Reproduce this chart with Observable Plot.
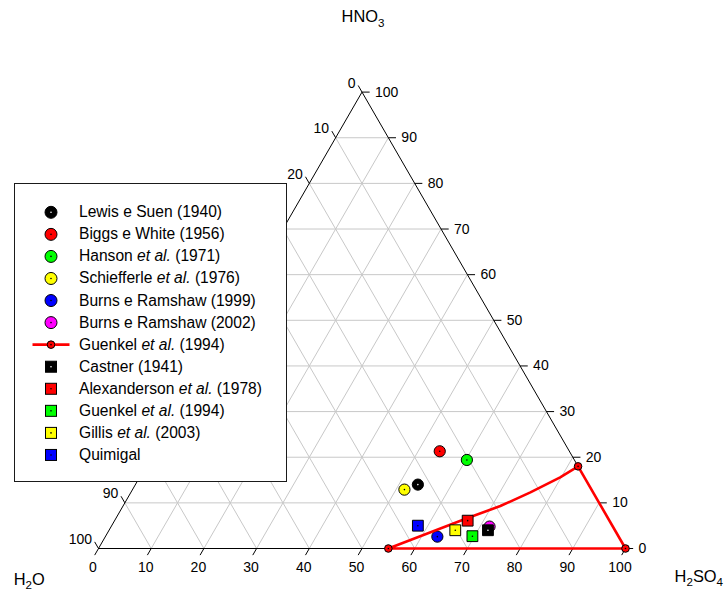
<!DOCTYPE html>
<html>
<head>
<meta charset="utf-8">
<script src="https://cdn.jsdelivr.net/npm/d3@7"></script>
<script src="https://cdn.jsdelivr.net/npm/@observablehq/plot@0.6"></script>
<style>
  html, body { margin: 0; padding: 0; background: #fff; }
  #chart { position: relative; width: 724px; height: 589px; font-family: "Liberation Sans", Arial, sans-serif; }
  #chart svg { display: block; }
  #legend { position: absolute; left: 14px; top: 183px; width: 273px; height: 299px; box-sizing: border-box;
            border: 1px solid #1a1a1a; background: #fff; }
  #legend svg { position: absolute; left: 0; top: 0; }
  #legend .row { position: absolute; left: 64px; height: 22px; line-height: 22px; font-size: 15.6px; color: #000; white-space: nowrap; }
</style>
</head>
<body>
<div id="chart"><div id="legend"></div></div>
<script>
// Ternary system H2O – H2SO4 – HNO3, compositions in mass %
// Circle series: H2SO4 and HNO3 content of each point (H2O is the remainder)
const circleLabels = ["Lewis e Suen (1940)", "Biggs e White (1956)", "Hanson et al. (1971)",
                      "Schiefferle et al. (1976)", "Burns e Ramshaw (1999)", "Burns e Ramshaw (2002)"];
const circleColors = ["#000000", "#ff0000", "#00ff00", "#ffff00", "#0000ff", "#ff00ff"];
const circleH2SO4  = [53.6, 54.1, 60.2, 51.6, 63.0, 71.8];
const circleHNO3   = [14.0, 21.3, 19.4, 12.9, 2.6, 4.8];

// Square series
const squareLabels = ["Castner (1941)", "Alexanderson et al. (1978)", "Guenkel et al. (1994)",
                      "Gillis et al. (2003)", "Quimigal"];
const squareColors = ["#000000", "#ff0000", "#00ff00", "#ffff00", "#0000ff"];
const squareH2SO4  = [71.9, 67.0, 69.6, 65.7, 58.1];
const squareHNO3   = [4.0, 6.1, 2.7, 4.0, 5.0];

// Operating region boundary (closed), first three points are its corners
const boundaryLabel = "Guenkel et al. (1994)";
const boundaryH2SO4 = [55.0, 100.0, 82.0, 79.8, 75.8, 71.6, 66.7, 55.0];
const boundaryHNO3  = [0.0, 0.0, 18.0, 15.6, 12.3, 9.3, 6.7, 0.0];
const boundaryCorners = 3;

// Axis ticks and grid levels
const tickValues = [0, 10, 20, 30, 40, 50, 60, 70, 80, 90, 100];
const gridLevels = [10, 20, 30, 40, 50, 60, 70, 80, 90];
const cornerNames = ["H2O", "H2SO4", "HNO3"];

// Ternary → Cartesian (equilateral triangle, side 100)
const SQ = Math.sqrt(3) / 2;
const tx = (s, n) => s + n / 2;
const ty = (n) => n * SQ;

const circles = circleLabels.map((label, i) => ({label, color: circleColors[i], s: circleH2SO4[i], n: circleHNO3[i]}));
const squares = squareLabels.map((label, i) => ({label, color: squareColors[i], s: squareH2SO4[i], n: squareHNO3[i]}));
const boundary = boundaryH2SO4.map((s, i) => ({s, n: boundaryHNO3[i]}));
const corners = boundary.slice(0, boundaryCorners);

const grid = gridLevels.flatMap(t => [
  {x1: tx(0, t), y1: ty(t), x2: tx(100 - t, t), y2: ty(t)},                 // HNO3 = t
  {x1: tx(t, 0), y1: 0, x2: tx(t, 100 - t), y2: ty(100 - t)},               // H2SO4 = t
  {x1: tx(100 - t, 0), y1: 0, x2: tx(0, 100 - t), y2: ty(100 - t)}          // H2O = t
]);

const outline = [{x: 0, y: 0}, {x: 100, y: 0}, {x: 50, y: ty(100)}, {x: 0, y: 0}];

const L = 1.45; // tick length in composition units
const bottomTicks = tickValues.map(t => ({v: t, x: tx(t, 0), y: 0}));
const rightTicks  = tickValues.map(t => ({v: t, x: tx(100 - t, t), y: ty(t)}));
const leftTicks   = tickValues.map(t => ({v: t, x: tx(0, 100 - t), y: ty(100 - t)}));

// corner component names, each anchored at its own vertex
const vertexH2O   = [{name: cornerNames[0], x: 0, y: 0}];
const vertexH2SO4 = [{name: cornerNames[1], x: 100, y: 0}];
const vertexHNO3  = [{name: cornerNames[2], x: 50, y: ty(100)}];

const centerDot = d => d.color === "#000000" ? "#ffffff" : "#000000";
const nameStyle = {x: "x", y: "y", text: "name", fontSize: 16.4, fill: "#000"};

const svg = Plot.plot({
  width: 724,
  height: 589,
  margin: 0,
  style: {fontFamily: "'Liberation Sans', Arial, sans-serif", fontSize: "14px", background: "#fff", color: "#000"},
  x: {domain: [0, 100], range: [98, 625], axis: null},
  y: {domain: [0, ty(100)], range: [548, 91.6], axis: null},
  color: {type: "identity"},
  marks: [
    Plot.link(grid, {x1: "x1", y1: "y1", x2: "x2", y2: "y2", stroke: "#c8c8c8", strokeWidth: 1}),
    Plot.line(outline, {x: "x", y: "y", stroke: "#000", strokeWidth: 1}),
    // ticks
    Plot.link(bottomTicks, {x1: "x", y1: "y", x2: d => d.x - 0.5 * L, y2: d => d.y - SQ * L, stroke: "#000", strokeWidth: 1}),
    Plot.link(rightTicks, {x1: "x", y1: "y", x2: d => d.x + L, y2: "y", stroke: "#000", strokeWidth: 1}),
    Plot.link(leftTicks, {x1: "x", y1: "y", x2: d => d.x - 0.5 * L, y2: d => d.y + SQ * L, stroke: "#000", strokeWidth: 1}),
    // tick labels
    Plot.text(bottomTicks, {x: "x", y: "y", text: d => String(d.v), dx: -5.5, dy: 19.5, fontSize: 14, fill: "#000"}),
    Plot.text(rightTicks, {x: "x", y: "y", text: d => String(d.v), dx: 13, textAnchor: "start", fontSize: 14, fill: "#000"}),
    Plot.text(leftTicks, {x: "x", y: "y", text: d => String(d.v), dx: -6.5, dy: -9, textAnchor: "end", fontSize: 14, fill: "#000"}),
    // circle series
    Plot.dot(circles, {x: d => tx(d.s, d.n), y: d => ty(d.n), r: 5.6, fill: "color", stroke: "#000", strokeWidth: 1}),
    Plot.dot(circles, {x: d => tx(d.s, d.n), y: d => ty(d.n), r: 0.8, fill: centerDot, stroke: null}),
    // boundary
    Plot.line(boundary, {x: d => tx(d.s, d.n), y: d => ty(d.n), stroke: "#ff0000", strokeWidth: 2.6, strokeLinejoin: "round"}),
    Plot.dot(corners, {x: d => tx(d.s, d.n), y: d => ty(d.n), r: 3.8, fill: "#ff0000", stroke: "#000", strokeWidth: 1}),
    Plot.dot(corners, {x: d => tx(d.s, d.n), y: d => ty(d.n), r: 0.8, fill: "#000", stroke: null}),
    // square series
    Plot.dot(squares, {x: d => tx(d.s, d.n), y: d => ty(d.n), symbol: "square", r: 6.1, fill: "color", stroke: "#000", strokeWidth: 1}),
    Plot.dot(squares, {x: d => tx(d.s, d.n), y: d => ty(d.n), r: 0.8, fill: centerDot, stroke: null}),
    // component names at the vertices
    Plot.text(vertexH2O, {...nameStyle, dx: -69.3, dy: 31.2}),
    Plot.text(vertexH2SO4, {...nameStyle, dx: 73.3, dy: 27.8}),
    Plot.text(vertexHNO3, {...nameStyle, dx: 1, dy: -75})
  ]
});

// Chemical formulas: render the digits as subscripts
d3.select(svg).selectAll("text")
  .filter(function() { return cornerNames.includes(this.textContent); })
  .each(function() {
    const t = d3.select(this);
    const s = this.textContent;
    t.text(null);
    let sub = false;
    s.split(/(\d)/).filter(p => p.length).forEach(part => {
      const isSub = /^\d$/.test(part);
      const span = t.append("tspan").text(part);
      if (isSub) span.attr("font-size", "11.6px").attr("dy", sub ? null : 4.5);
      else if (sub) span.attr("dy", -4.5);
      sub = isSub;
    });
  });

document.getElementById("chart").insertBefore(svg, document.getElementById("legend"));

// Legend
const legendEntries = [
  ...circles.map(d => ({kind: "circle", color: d.color, label: d.label})),
  {kind: "line", color: "#ff0000", label: boundaryLabel},
  ...squares.map(d => ({kind: "square", color: d.color, label: d.label}))
];
const legend = d3.select("#legend");
const lsvg = legend.append("svg").attr("width", 271).attr("height", 297);
const rowY = i => 28.3 + 22.06 * i;
const symX = 36;
legendEntries.forEach((e, i) => {
  const cy = rowY(i);
  const g = lsvg.append("g").attr("transform", `translate(${symX},${cy})`);
  if (e.kind === "circle") {
    g.append("circle").attr("r", 6).attr("fill", e.color).attr("stroke", "#000");
  } else if (e.kind === "square") {
    g.append("rect").attr("x", -5.5).attr("y", -5.5).attr("width", 11).attr("height", 11).attr("fill", e.color).attr("stroke", "#000");
  } else {
    g.append("line").attr("x1", -18.5).attr("x2", 18.5).attr("stroke", e.color).attr("stroke-width", 2.6);
    g.append("circle").attr("r", 3.8).attr("fill", e.color).attr("stroke", "#000");
  }
  g.append("circle").attr("r", 0.8).attr("fill", e.color === "#000000" ? "#fff" : "#000");

  const row = legend.append("div").attr("class", "row").style("top", (cy - 11) + "px");
  const parts = e.label.split("et al.");
  row.append("span").text(parts[0]);
  if (parts.length > 1) {
    row.append("i").text("et al.");
    row.append("span").text(parts[1]);
  }
});
</script>
</body>
</html>
